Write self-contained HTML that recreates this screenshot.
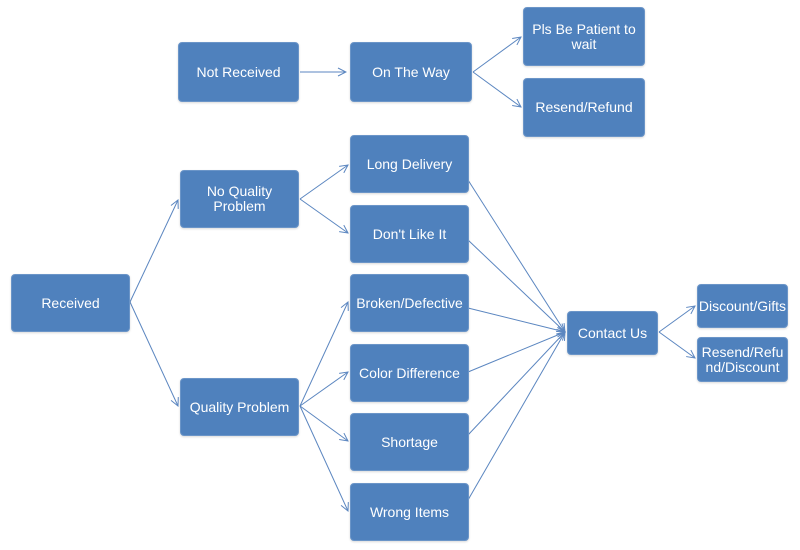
<!DOCTYPE html>
<html><head><meta charset="utf-8"><style>
body{margin:0;background:#fff;width:800px;height:550px;overflow:hidden;position:relative;font-family:"Liberation Sans",sans-serif}
.b{position:absolute;background:#4f81bd;border:1px solid #6b95c8;border-radius:4px;color:#fff;font-size:14px;display:flex;align-items:center;justify-content:center;text-align:center;line-height:15px;box-sizing:border-box;box-shadow:0 1px 2px rgba(0,0,0,.15)}
svg{position:absolute;left:0;top:0}
</style></head><body>
<svg width="800" height="550"><defs><marker id="a" markerWidth="10" markerHeight="10" refX="9" refY="5" orient="auto" markerUnits="userSpaceOnUse"><path d="M1,1 L9,5 L1,9" fill="none" stroke="#5b86c0" stroke-width="1"/></marker></defs>
<g stroke="#5b86c0" stroke-width="1" fill="none" marker-end="url(#a)">
<line x1="300" y1="72" x2="346" y2="72"/>
<line x1="473" y1="72" x2="521" y2="37"/>
<line x1="473" y1="72" x2="521" y2="107"/>
<line x1="130" y1="302" x2="178" y2="200"/>
<line x1="130" y1="302" x2="178" y2="406"/>
<line x1="300" y1="199" x2="348" y2="165"/>
<line x1="300" y1="199" x2="348" y2="233"/>
<line x1="300" y1="406" x2="348" y2="302"/>
<line x1="300" y1="406" x2="348" y2="372"/>
<line x1="300" y1="406" x2="348" y2="441"/>
<line x1="300" y1="406" x2="348" y2="511"/>
<line x1="468" y1="180" x2="565" y2="332"/>
<line x1="468" y1="240" x2="565" y2="332"/>
<line x1="468" y1="308" x2="565" y2="332"/>
<line x1="468" y1="372" x2="565" y2="332"/>
<line x1="468" y1="435" x2="565" y2="332"/>
<line x1="468" y1="500" x2="565" y2="332"/>
<line x1="659" y1="332" x2="695" y2="306"/>
<line x1="659" y1="332" x2="695" y2="358"/>
</g></svg>
<div class="b" style="left:178px;top:42px;width:121px;height:60px">Not Received</div>
<div class="b" style="left:350px;top:42px;width:122px;height:60px">On The Way</div>
<div class="b" style="left:523px;top:7px;width:122px;height:59px">Pls Be Patient to<br>wait</div>
<div class="b" style="left:523px;top:78px;width:122px;height:59px">Resend/Refund</div>
<div class="b" style="left:350px;top:135px;width:119px;height:58px">Long Delivery</div>
<div class="b" style="left:350px;top:205px;width:119px;height:58px">Don't Like It</div>
<div class="b" style="left:180px;top:170px;width:119px;height:58px">No Quality<br>Problem</div>
<div class="b" style="left:11px;top:274px;width:119px;height:58px">Received</div>
<div class="b" style="left:180px;top:378px;width:119px;height:58px">Quality Problem</div>
<div class="b" style="left:350px;top:274px;width:119px;height:58px">Broken/Defective</div>
<div class="b" style="left:350px;top:344px;width:119px;height:58px">Color Difference</div>
<div class="b" style="left:350px;top:413px;width:119px;height:58px">Shortage</div>
<div class="b" style="left:350px;top:483px;width:119px;height:58px">Wrong Items</div>
<div class="b" style="left:567px;top:311px;width:91px;height:44px">Contact Us</div>
<div class="b" style="left:697px;top:284px;width:91px;height:44px">Discount/Gifts</div>
<div class="b" style="left:697px;top:337px;width:91px;height:45px">Resend/Refu<br>nd/Discount</div>
</body></html>
